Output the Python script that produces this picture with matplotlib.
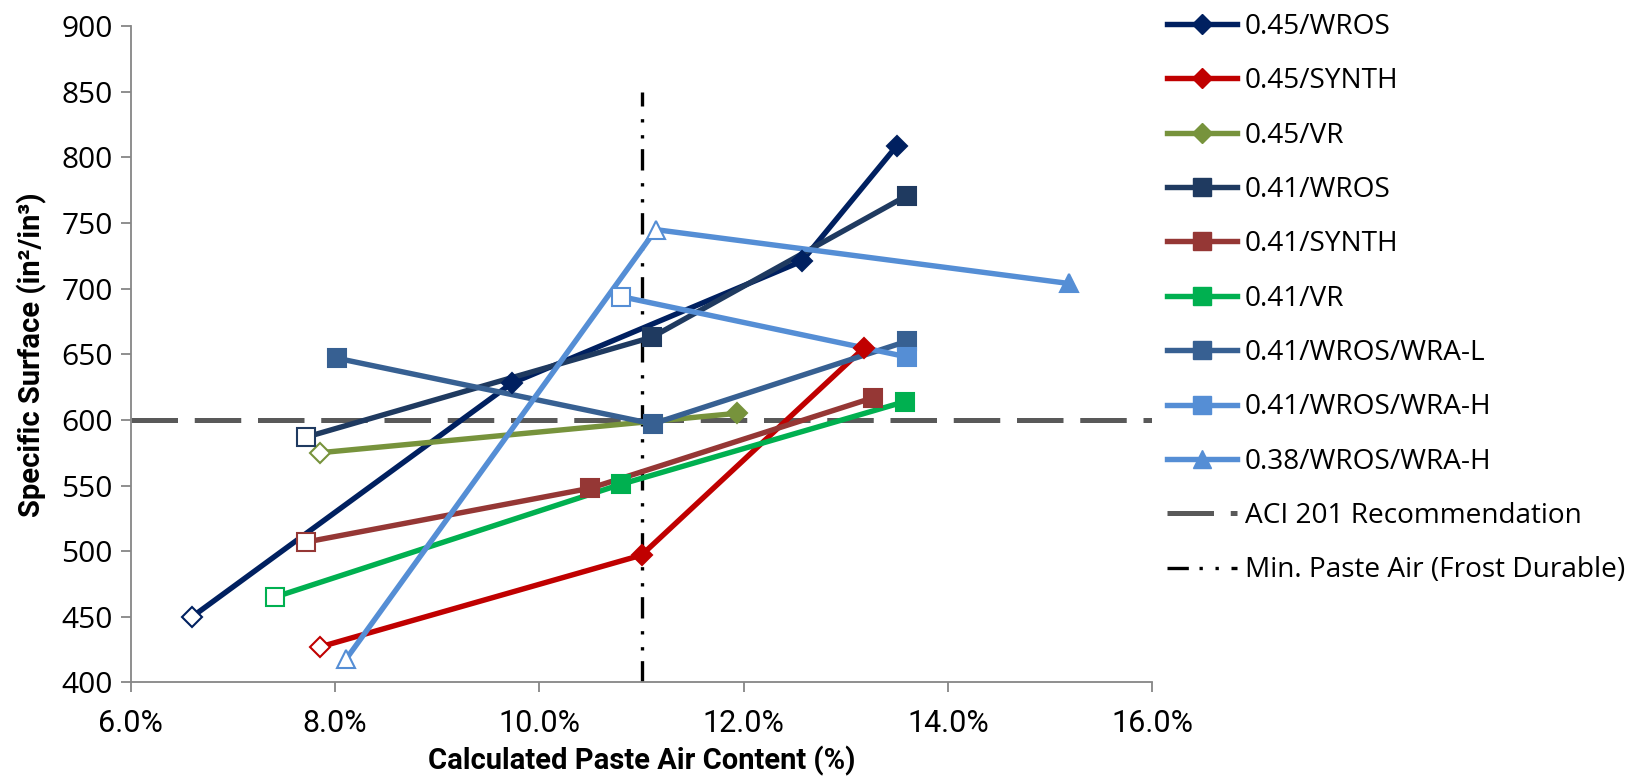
import matplotlib.pyplot as plt
from matplotlib.lines import Line2D
from matplotlib.ticker import FuncFormatter

# series data (x = paste air %, y = specific surface in2/in3)
names = ['0.45/WROS', '0.45/SYNTH', '0.45/VR', '0.41/WROS', '0.41/SYNTH',
         '0.41/VR', '0.41/WROS/WRA-L', '0.41/WROS/WRA-H', '0.38/WROS/WRA-H']
x_vals = [
    [6.6, 9.73, 12.57, 13.5],
    [7.85, 11.0, 13.18],
    [7.85, 11.93],
    [7.72, 11.1, 13.6],
    [7.72, 10.5, 13.27],
    [7.41, 10.8, 13.58],
    [8.02, 11.11, 13.6],
    [10.8, 13.6],
    [8.11, 11.14, 15.18],
]
y_vals = [
    [450, 628, 721, 809],
    [427, 497, 655],
    [575, 605],
    [587, 663, 771],
    [507, 548, 617],
    [465, 551, 614],
    [647, 597, 660],
    [694, 648],
    [418, 745, 704],
]
# which points are drawn as hollow markers
hollow = [
    [0], [0], [0], [0], [0], [0], [], [0], [0, 1],
]
colors = ['#002060', '#C00000', '#77933C', '#1F3A60', '#953735',
          '#00B050', '#376092', '#558ED5', '#558ED5']
markers = ['D', 'D', 'D', 's', 's', 's', 's', 's', '^']
msizes = [10, 10, 10, 12.5, 12.5, 12.5, 12.5, 12.5, 13]

aci_level = 600
min_paste_air = 11.0

plt.rcParams['font.family'] = ['Open Sans', 'DejaVu Sans']
narrow = ['Roboto', 'DejaVu Sans']

aci_dash = (9.3, 3.35)
min_dash = (6.4, 3.2, 1, 3.8, 1, 3.8)
lw = 3.9

fig = plt.figure(figsize=(16.41, 7.8), dpi=100)
ax = fig.add_axes([0.0797, 0.1251, 0.6225, 0.8413])

ax.axhline(aci_level, color='#595959', linewidth=3.6, dashes=aci_dash, zorder=1)
ax.plot([min_paste_air, min_paste_air], [400, 850], color='black', linewidth=2.4,
        dashes=min_dash, zorder=1)

handles = []
for i, name in enumerate(names):
    xs, ys, c = x_vals[i], y_vals[i], colors[i]
    ax.plot(xs, ys, color=c, linewidth=lw, zorder=2)
    for j in range(len(xs)):
        face = 'white' if j in hollow[i] else c
        ax.plot(xs[j], ys[j], marker=markers[i], markersize=msizes[i],
                markerfacecolor=face, markeredgecolor=c, markeredgewidth=1.5,
                linestyle='none', zorder=3)
    handles.append(Line2D([], [], color=c, linewidth=lw, marker=markers[i],
                          markersize=msizes[i], markerfacecolor=c,
                          markeredgecolor=c, label=name))

handles.append(Line2D([], [], color='#595959', linewidth=3.6, dashes=aci_dash,
                      label='ACI 201 Recommendation'))
handles.append(Line2D([], [], color='black', linewidth=2.4, dashes=min_dash,
                      label='Min. Paste Air (Frost Durable)'))

ax.set_xlim(6, 16)
ax.set_ylim(400, 900)
ax.set_xticks([6, 8, 10, 12, 14, 16])
ax.set_yticks(range(400, 901, 50))
ax.xaxis.set_major_formatter(FuncFormatter(lambda v, p: f'{v:.1f}%'))

for s in ['top', 'right']:
    ax.spines[s].set_visible(False)
for s in ['left', 'bottom']:
    ax.spines[s].set_color('#868686')
    ax.spines[s].set_linewidth(1.3)
ax.tick_params(axis='both', colors='#868686', length=7, width=1.3, labelcolor='black')
ax.tick_params(axis='y', labelsize=21.5, pad=6)
ax.tick_params(axis='x', labelsize=22, pad=12)
for lbl in ax.get_xticklabels():
    lbl.set_family(narrow)

ax.set_xlabel('Calculated Paste Air Content (%)', fontsize=21, fontweight='bold',
              family=narrow, labelpad=6)
ax.set_ylabel('Specific Surface (in²/in³)', fontsize=21, fontweight='bold',
              family=narrow, labelpad=10)

fig.legend(handles=handles, loc='upper left', bbox_to_anchor=(0.6955, 1.016),
           frameon=False, fontsize=20.2, handlelength=2.5, handletextpad=0.3,
           labelspacing=0.94)

fig.savefig('out.png', dpi=100)
